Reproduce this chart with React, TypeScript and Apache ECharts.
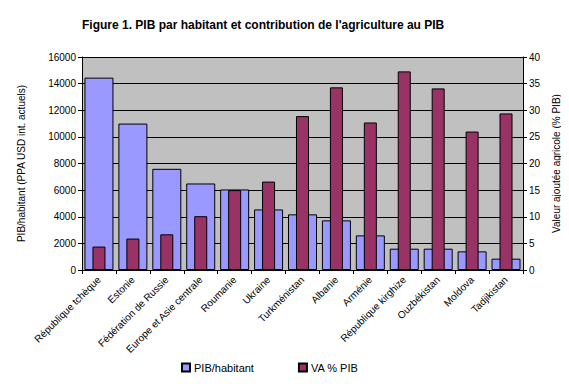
import React, { useEffect, useRef } from "react";
import * as echarts from "echarts";

const categories = [
  "République tchèque",
  "Estonie",
  "Fédération de Russie",
  "Europe et Asie centrale",
  "Roumanie",
  "Ukraine",
  "Turkménistan",
  "Albanie",
  "Arménie",
  "République kirghize",
  "Ouzbékistan",
  "Moldova",
  "Tadjikistan",
];
const pibHabitant = [14450, 11000, 7600, 6500, 6050, 4550, 4180, 3730, 2600, 1600, 1600, 1400, 850];
const vaPib = [4.4, 5.9, 6.7, 10.1, 15, 16.6, 28.9, 34.3, 27.7, 37.3, 34.1, 26.0, 29.4];

const FONT = "Liberation Sans, Arial, sans-serif";

export default function App() {
  const ref = useRef<HTMLDivElement>(null);
  useEffect(() => {
    if (!ref.current) return;
    const chart = echarts.init(ref.current, undefined, { renderer: "svg" });
    chart.setOption({
      animation: false,
      backgroundColor: "#ffffff",
      textStyle: { fontFamily: FONT, color: "#000" },
      title: {
        text: "Figure 1. PIB par habitant et contribution de l'agriculture au PIB",
        left: 77,
        top: 14,
        textStyle: { fontFamily: FONT, fontSize: 12, fontWeight: "bold", color: "#000" },
      },
      legend: {
        top: 357,
        left: 176,
        itemWidth: 8,
        itemHeight: 8,
        itemGap: 44,
        icon: "rect",
        textStyle: { fontFamily: FONT, fontSize: 11, color: "#000", padding: [0, 0, 0, -1] },
        data: ["PIB/habitant", "VA % PIB"],
      },
      grid: {
        left: 82,
        right: 44,
        top: 57,
        bottom: 120,
        show: true,
        backgroundColor: "#C0C0C0",
        borderWidth: 0,
      },
      xAxis: [
        {
          type: "category",
          data: categories,
          axisLine: { lineStyle: { color: "#000" } },
          axisTick: { show: true, lineStyle: { color: "#000" }, length: 4 },
          axisLabel: {
            rotate: 45,
            interval: 0,
            fontSize: 10,
            color: "#000",
            fontFamily: FONT,
            margin: 8,
          },
        },
        {
          type: "category",
          data: categories,
          show: false,
          position: "bottom",
        },
      ],
      yAxis: [
        {
          type: "value",
          min: 0,
          max: 16000,
          interval: 2000,
          name: "PIB/habitant (PPA USD int. actuels)",
          nameLocation: "middle",
          nameGap: 56,
          nameTextStyle: { fontSize: 10, fontFamily: FONT, color: "#000" },
          axisLine: { show: true, lineStyle: { color: "#000" } },
          axisTick: { show: true, length: 4, lineStyle: { color: "#000" } },
          axisLabel: {
            fontSize: 10,
            color: "#000",
            fontFamily: FONT,
            margin: 6,
            formatter: (v: number) => String(v),
          },
          splitLine: { show: true, lineStyle: { color: "#000", width: 1 } },
        },
        {
          type: "value",
          min: 0,
          max: 40,
          interval: 5,
          position: "right",
          name: "Valeur ajoutée agricole (% PIB)",
          nameLocation: "middle",
          nameGap: 23,
          nameTextStyle: { fontSize: 10, fontFamily: FONT, color: "#000" },
          axisLine: { show: true, lineStyle: { color: "#000" } },
          axisTick: { show: true, length: 4, lineStyle: { color: "#000" } },
          axisLabel: { fontSize: 10, color: "#000", fontFamily: FONT, margin: 6 },
          splitLine: { show: false },
        },
      ],
      series: [
        {
          name: "PIB/habitant",
          type: "bar",
          xAxisIndex: 0,
          yAxisIndex: 0,
          data: pibHabitant,
          barWidth: 29,
          itemStyle: { color: "#9999FF", borderColor: "#000", borderWidth: 1 },
          z: 2,
        },
        {
          name: "VA % PIB",
          type: "bar",
          xAxisIndex: 1,
          yAxisIndex: 1,
          data: vaPib,
          barWidth: 13,
          itemStyle: { color: "#993366", borderColor: "#000", borderWidth: 1 },
          z: 3,
        },
      ],
    });
    return () => chart.dispose();
  }, []);
  return <div ref={ref} style={{ width: 569, height: 390, margin: -8 }} />;
}
